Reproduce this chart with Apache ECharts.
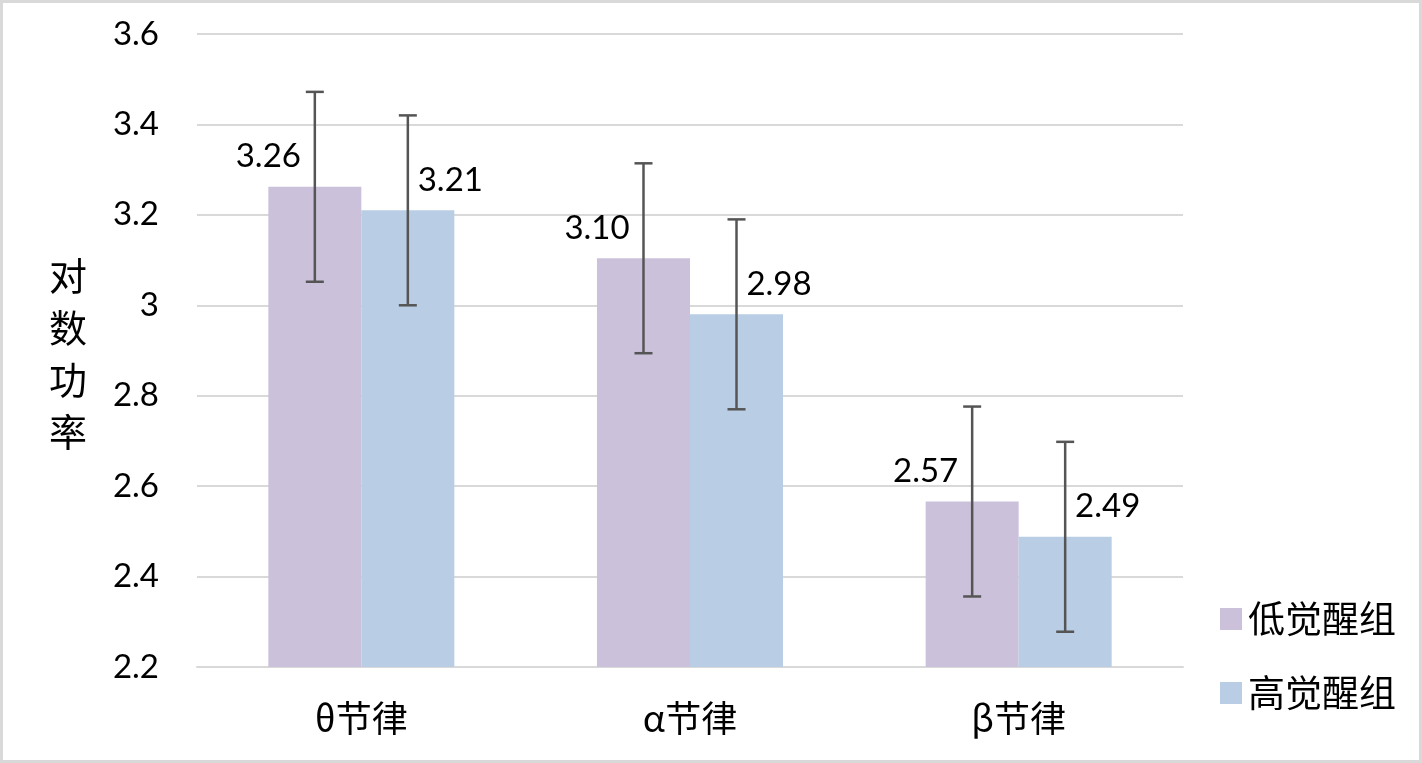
<!DOCTYPE html>
<html>
<head>
<meta charset="utf-8">
<script src="https://cdn.jsdelivr.net/npm/echarts@6/dist/echarts.min.js"></script>
<style>
html,body{margin:0;padding:0;background:#fff;}
#chart{position:absolute;left:0;top:0;width:1422px;height:763px;}
#frame{position:absolute;left:0;top:0;width:1422px;height:763px;box-sizing:border-box;border:3px solid #d9d9d9;pointer-events:none;}
</style>
</head>
<body>
<div id="chart"></div>
<div id="frame"></div>
<script>
const categories = ['θ节律', 'α节律', 'β节律'];
const seriesNames = ['低觉醒组', '高觉醒组'];
const lowValues = [3.262, 3.104, 2.566];
const highValues = [3.21, 2.98, 2.488];
const lowErr = [0.21, 0.21, 0.21];
const highErr = [0.21, 0.21, 0.21];
const yTicks = {min: 2.2, max: 3.6, interval: 0.2};

const colors = ['#cbc1db', '#b9cde5'];
const barFrac = 0.283;
const numFont = 'Lato, "Noto Sans", sans-serif';
const cjkFont = '"Noto Sans CJK SC", sans-serif';

function errSeries(values, errs, side) {
  return {
    type: 'custom',
    silent: true,
    z: 10,
    data: values.map((v, i) => [i, v, errs[i]]),
    renderItem: function (params, api) {
      const i = api.value(0), v = api.value(1), e = api.value(2);
      const band = api.size([1, 0])[0];
      const dx = side * band * barFrac / 2;
      const top = api.coord([i, v + e]);
      const bot = api.coord([i, v - e]);
      const x = top[0] + dx;
      const cap = 9;
      const st = {stroke: '#555555', lineWidth: 2.5};
      return {
        type: 'group',
        children: [
          {type: 'line', shape: {x1: x, y1: top[1], x2: x, y2: bot[1]}, style: st},
          {type: 'line', shape: {x1: x - cap, y1: top[1], x2: x + cap, y2: top[1]}, style: st},
          {type: 'line', shape: {x1: x - cap, y1: bot[1], x2: x + cap, y2: bot[1]}, style: st}
        ]
      };
    }
  };
}

const chart = echarts.init(document.getElementById('chart'));
chart.setOption({
  animation: false,
  grid: {left: 197, right: 239, top: 34, bottom: 96, containLabel: false},
  legend: {
    orient: 'vertical',
    left: 1215,
    top: 593,
    itemWidth: 22,
    itemHeight: 22,
    itemGap: 32,
    icon: 'rect',
    data: seriesNames,
    textStyle: {fontFamily: cjkFont, fontSize: 37, lineHeight: 42, color: '#000', padding: [0, 0, 0, 1]}
  },
  graphic: [{
    type: 'text',
    left: 49,
    top: 250,
    style: {
      text: '对\n数\n功\n率',
      font: '38px "Noto Sans CJK SC", sans-serif',
      lineHeight: 52,
      fill: '#000'
    }
  }],
  xAxis: {
    type: 'category',
    data: categories,
    axisTick: {show: false},
    axisLine: {lineStyle: {color: '#d9d9d9', width: 2}},
    axisLabel: {fontFamily: cjkFont, fontSize: 36, color: '#000', margin: 33}
  },
  yAxis: {
    type: 'value',
    min: yTicks.min,
    max: yTicks.max,
    interval: yTicks.interval,
    axisLine: {show: false},
    axisTick: {show: false},
    splitLine: {lineStyle: {color: '#d9d9d9', width: 2}},
    axisLabel: {
      fontFamily: numFont, fontSize: 33, color: '#000', margin: 38,
      formatter: v => String(Math.round(v * 10) / 10)
    }
  },
  series: [
    {
      name: seriesNames[0], type: 'bar', data: lowValues, barWidth: (barFrac * 100) + '%', barGap: '0%',
      itemStyle: {color: colors[0]},
      label: {show: true, position: [0, -30], align: 'center', verticalAlign: 'middle',
        fontFamily: numFont, fontSize: 33, color: '#000', formatter: p => p.value.toFixed(2)}
    },
    {
      name: seriesNames[1], type: 'bar', data: highValues, barWidth: (barFrac * 100) + '%', barGap: '0%',
      itemStyle: {color: colors[1]},
      label: {show: true, position: [89, -30], align: 'center', verticalAlign: 'middle',
        fontFamily: numFont, fontSize: 33, color: '#000', formatter: p => p.value.toFixed(2)}
    },
    errSeries(lowValues, lowErr, -1),
    errSeries(highValues, highErr, 1)
  ]
});
</script>
</body>
</html>
